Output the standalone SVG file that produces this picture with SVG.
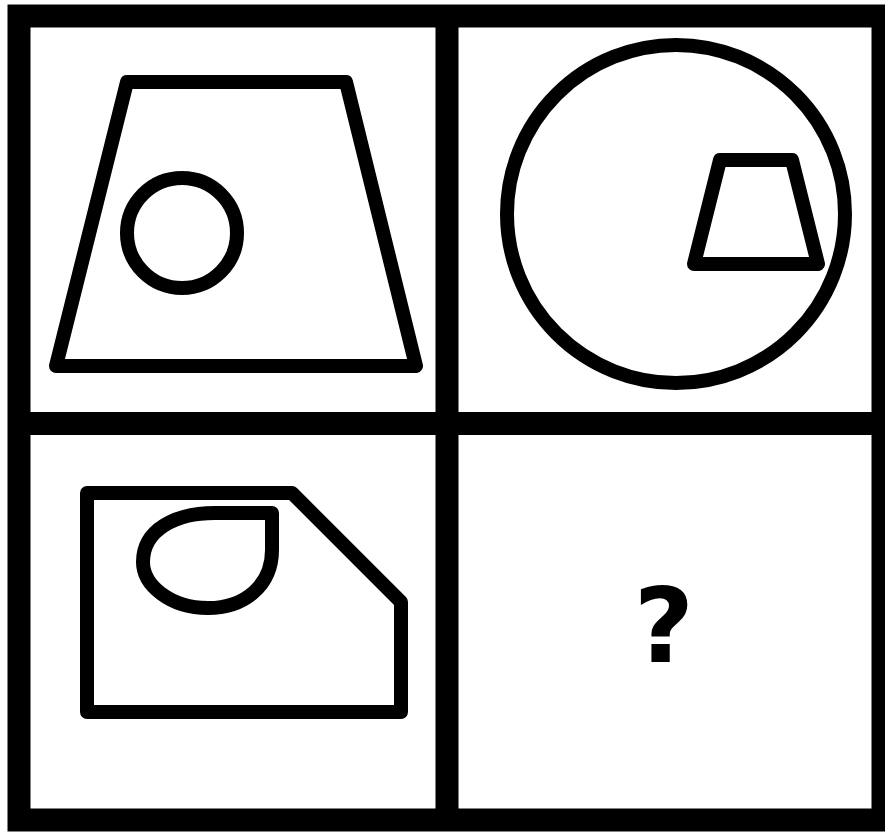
<svg xmlns="http://www.w3.org/2000/svg" width="885" height="832" viewBox="0 0 885 832">
<style>
.frame{fill:none;stroke:#000;stroke-width:23}
.shape{fill:none;stroke:#000;stroke-width:14;stroke-linejoin:round}
.q{font-family:"DejaVu Sans",sans-serif;font-weight:bold;font-size:104px;fill:#000}
</style>
<rect width="885" height="832" fill="#fff"/>
<g id="grid">
<rect class="frame" x="19" y="16" width="864" height="804"/>
<line class="frame" x1="447" y1="16" x2="447" y2="820"/>
<line class="frame" x1="19" y1="423.5" x2="883" y2="423.5"/>
</g>
<g id="panel1">
<polygon class="shape" points="127,82 346,82 416,366 56,366"/>
<circle class="shape" cx="182" cy="233" r="55"/>
</g>
<g id="panel2">
<circle class="shape" cx="676" cy="214" r="169"/>
<polygon class="shape" points="720,160 792,160 818,264 694,264"/>
</g>
<g id="panel3">
<polygon class="shape" points="87,493 292,493 401,602 401,712 87,712"/>
<path class="shape" d="M272,513 L272,550 C272,585 245,608 208,608 C170,608 143,585 143,562 C143,530 175,513 215,513 Z"/>
</g>
<g id="panel4">
<text class="q" x="664" y="662" text-anchor="middle">?</text>
</g>
</svg>
